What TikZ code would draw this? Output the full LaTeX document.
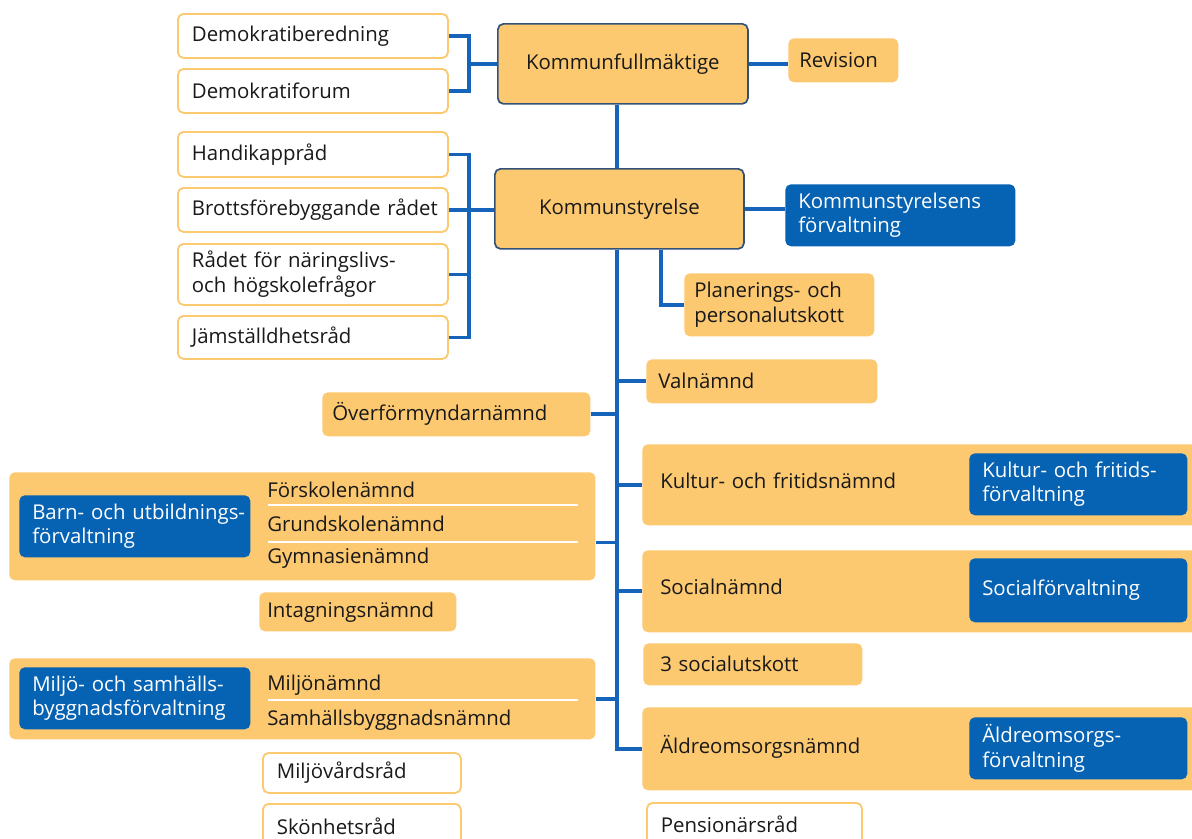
\documentclass[tikz,border=0pt]{standalone}
\usepackage{fontspec}
\setmainfont{Open Sans}
\usetikzlibrary{calc}

\definecolor{orgylw}{RGB}{252,200,112}
\definecolor{orgblue}{RGB}{6,98,178}
\definecolor{orgline}{RGB}{22,100,186}
\definecolor{orgedge}{RGB}{52,82,120}

\tikzset{
  sz/.style 2 args={minimum width=#1*0.25mm, minimum height=#2*0.25mm,
    text width=#1*0.25mm-2*\pgfkeysvalueof{/pgf/inner xsep}},
  orgbox/.style={anchor=north west, rounded corners=4pt, inner ysep=0pt, inner xsep=3mm,
    align=left, font=\fontsize{14.5}{17.5}\selectfont, text=black!90},
  wbox/.style={orgbox, draw=orgylw, line width=1.3pt, fill=white, inner xsep=3.5mm},
  ybox/.style={orgbox, fill=orgylw},
  nbox/.style={ybox, inner xsep=4.5mm, text depth=6pt},
  bbox/.style={orgbox, fill=orgblue, text=white, inner xsep=3.25mm},
  mbox/.style={orgbox, fill=orgylw, draw=orgedge, line width=1.2pt, align=center},
  lbl/.style={anchor=base west, inner sep=0pt, font=\fontsize{14.5}{17.5}\selectfont, text=black!90},
  conn/.style={orgline, line width=2.7pt},
  sep/.style={white, line width=1.6pt}
}

\begin{document}
\begin{tikzpicture}[x=0.025cm, y=-0.025cm]
  \useasboundingbox (0,0) rectangle (1192,838);

  \coordinate (dbr) at (469,0);
  \coordinate (spine) at (617,0);
  \coordinate (pbr) at (661,0);

  % top
  \node[wbox, sz={270}{44}] (demober) at (177,13) {Demokratiberedning};
  \node[wbox, sz={270}{44}] (demofor) at (177,68) {Demokratiforum};
  \node[mbox, sz={250}{80}] (kfm) at (497,23) {Kommunfullmäktige};
  \node[ybox, sz={110}{44}, inner xsep=2.75mm] (rev) at (788,38) {Revision};

  \node[wbox, sz={270}{45}] (handik) at (177,131) {Handikappråd};
  \node[wbox, sz={270}{44}] (brotts) at (177,187) {\mbox{Brottsförebyggande rådet}};
  \node[wbox, sz={270}{61}] (radet) at (177,243) {\mbox{Rådet för näringslivs-}\\och högskolefrågor};
  \node[wbox, sz={270}{43}] (jamst) at (177,315) {Jämställdhetsråd};
  \node[mbox, sz={249}{80}] (ks) at (494,168) {Kommunstyrelse};
  \node[bbox, sz={230}{62}] (ksf) at (785,184) {\mbox{Kommunstyrelsens}\\förvaltning};
  \node[ybox, sz={190}{63}, inner xsep=2.5mm] (plan) at (684,273) {\mbox{Planerings- och}\\personalutskott};

  % right
  \node[ybox, sz={231}{44}] (valn) at (646,359) {Valnämnd};
  \node[nbox, sz={560}{81}] (kultur) at (642,444) {Kultur- och fritidsnämnd};
  \node[bbox, sz={218}{62}] (kultforv) at (969,453) {\mbox{Kultur- och fritids-}\\förvaltning};
  \node[nbox, sz={560}{82}] (social) at (642,550) {Socialnämnd};
  \node[bbox, sz={218}{64}] (socforv) at (969,558) {Socialförvaltning};
  \node[ybox, sz={219}{42}, inner xsep=4.25mm] (sutsk) at (643,643) {3 socialutskott};
  \node[nbox, sz={560}{83}] (aldre) at (642,707) {Äldreomsorgsnämnd};
  \node[bbox, sz={218}{62}] (aldforv) at (969,717) {Äldreomsorgs-\\förvaltning};
  \node[wbox, sz={215}{42}] (pension) at (646,802) {Pensionärsråd};

  % left
  \node[ybox, sz={268}{44}, inner xsep=2.5mm] (overf) at (322,392) {Överförmyndarnämnd};
  \node[ybox, sz={586}{108}] (barn) at (9,472) {};
  \node[bbox, sz={231}{62}] (barnforv) at (19,495) {\mbox{Barn- och utbildnings-}\\förvaltning};
  \node[lbl] (forsk) at (267,497) {Förskolenämnd};
  \node[lbl] (grund) at (267,531) {Grundskolenämnd};
  \node[lbl] (gymn) at (267,563) {Gymnasienämnd};
  \draw[sep] ($(forsk.base west)+(1,8)$) -- ++(310,0);
  \draw[sep] ($(grund.base west)+(1,11)$) -- ++(310,0);

  \node[ybox, sz={197}{39}, inner xsep=2mm] (intag) at (259,592) {Intagningsnämnd};

  \node[ybox, sz={586}{81}] (miljo) at (9,658) {};
  \node[bbox, sz={231}{62}] (miljoforv) at (19,667) {\mbox{Miljö- och samhälls-}\\\mbox{byggnadsförvaltning}};
  \node[lbl] (miljon) at (267,690) {Miljönämnd};
  \node[lbl] (samh) at (267,725) {Samhällsbyggnadsnämnd};
  \draw[sep] ($(miljon.base west)+(1,10)$) -- ++(310,0);

  \node[wbox, sz={198}{40}] (miljovard) at (262,752) {Miljövårdsråd};
  \node[wbox, sz={198}{44}] (skonh) at (262,803) {Skönhetsråd};

  % connectors
  \draw[conn] (demober.east) -| (dbr |- demofor.east) -- (demofor.east);
  \draw[conn] (kfm.west) -- (kfm.west -| dbr);
  \draw[conn] (kfm.east) -- (kfm.east -| rev.west);
  \draw[conn] (handik.east) -| (dbr |- jamst.east) -- (jamst.east);
  \draw[conn] (brotts.east) -- (brotts.east -| ks.west);
  \draw[conn] (radet.east) -- (radet.east -| dbr);
  \draw[conn] (kfm.south -| spine) -- (ks.north -| spine);
  \draw[conn] (ks.east) -- (ks.east -| ksf.west);
  \draw[conn] (ks.south -| pbr) |- (plan.west);
  \draw[conn] (ks.south -| spine) |- (aldre.west);
  \draw[conn] (valn.west) -- (valn.west -| spine);
  \draw[conn] (kultur.west) -- (kultur.west -| spine);
  \draw[conn] (social.west) -- (social.west -| spine);
  \draw[conn] (overf.east) -- (overf.east -| spine);
  \coordinate (barnc) at ($(barn.north east)!0.65!(barn.south east)$);
  \draw[conn] (barnc) -- (barnc -| spine);
  \draw[conn] (miljo.east) -- (miljo.east -| spine);
\end{tikzpicture}
\end{document}
